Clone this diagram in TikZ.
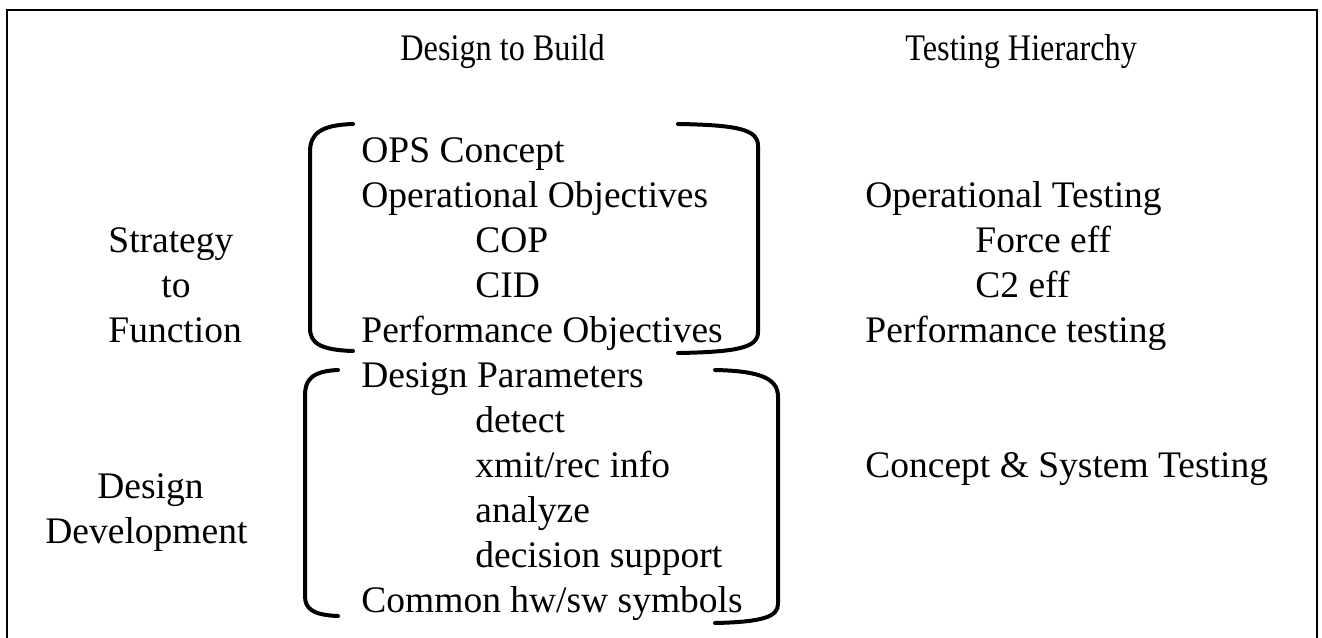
\documentclass[tikz,border=0pt]{standalone}
\usepackage{fontspec}
\setmainfont{Liberation Serif}
\begin{document}
\begin{tikzpicture}[x=0.5pt,y=-0.5pt,
  txt/.style={anchor=base west,inner sep=0pt,font=\fontsize{18.75}{22.5}\selectfont},
  head/.style={txt},
  brace/.style={line width=2pt,line cap=round},
  frame/.style={line width=1.2pt}]
\useasboundingbox (0,0) rectangle (1322,637);
% outer frame (its lower edge runs past the page)
\draw[frame] (7,10) rectangle (1317,660);

% column headings
\node[head] (hbuild) at (400,60) {\scalebox{0.86}[1]{Design to Build}};
\node[head] (htest)  at (905,60) {\scalebox{0.86}[1]{Testing Hierarchy}};

% left-hand phase labels
\node[txt] (strat) at (108,252) {Strategy};
\node[txt] (to)    at (161,297) {to};
\node[txt] (func)  at (108,342) {Function};
\node[txt] (des)   at (97,498)  {Design};
\node[txt] (dev)   at (45,543)  {Development};

% design items
\node[txt] (ops)   at (361,162) {OPS Concept};
\node[txt] (opobj) at (361,207) {Operational Objectives};
\node[txt] (cop)   at (475,252) {COP};
\node[txt] (cid)   at (475,297) {CID};
\node[txt] (perf)  at (361,342) {Performance Objectives};
\node[txt] (dpar)  at (361,387) {Design Parameters};
\node[txt] (det)   at (475,432) {detect};
\node[txt] (xmit)  at (475,477) {xmit/rec info};
\node[txt] (anl)   at (475,522) {analyze};
\node[txt] (dsup)  at (475,567) {decision support};
\node[txt] (hwsw)  at (361,612) {Common hw/sw symbols};

% testing items
\node[txt] (optest)  at (865,207) {Operational Testing};
\node[txt] (force)   at (975,252) {Force eff};
\node[txt] (ctwo)    at (975,297) {C2 eff};
\node[txt] (pftest)  at (865,342) {Performance testing};
\node[txt] (cstest)  at (865,477) {Concept \& System Testing};

% upper bracket pair
\draw[brace] (353,124) .. controls (320,125) and (310,134) .. (310,152)
  -- (310,328) .. controls (310,343) and (320,350) .. (353,351);
\draw[brace] (678,124) .. controls (740,125) and (758,130) .. (758,146)
  -- (758,332) .. controls (758,347) and (740,352) .. (678,353);

% lower bracket pair
\draw[brace] (338,370) .. controls (312,371) and (305,380) .. (305,395)
  -- (305,596) .. controls (305,609) and (313,615) .. (338,616);
\draw[brace] (715,370) .. controls (762,371) and (778,379) .. (778,397)
  -- (778,604) .. controls (778,617) and (762,622) .. (715,623);
\end{tikzpicture}
\end{document}
